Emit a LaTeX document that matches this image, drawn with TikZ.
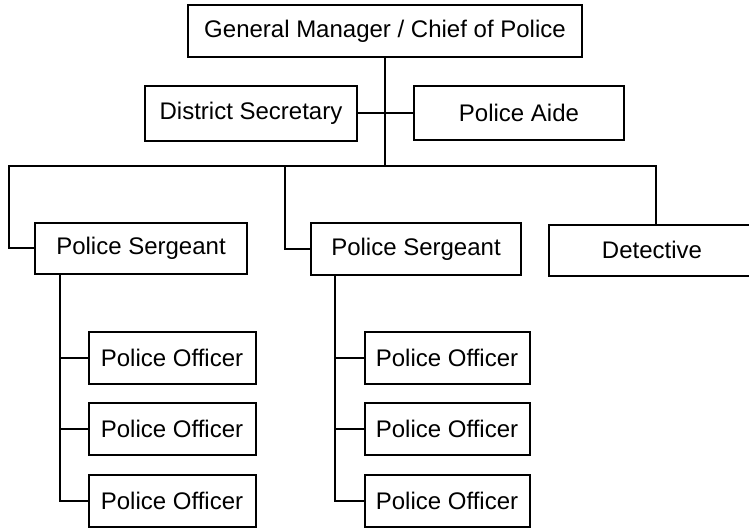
\documentclass[tikz,border=0pt]{standalone}
\usepackage{fontspec}
\setmainfont{Liberation Sans}
\usepackage{tikz}

\begin{document}
\begin{tikzpicture}[x=1pt, y=-1pt,
    every node/.style={font=\fontsize{24}{28}\selectfont},
    box/.style={draw, line width=2pt, inner sep=0pt, minimum height=52pt},
    officer/.style={box, minimum width=167pt},
    link/.style={line width=2pt}]

    \useasboundingbox (0,0) rectangle (749,530);

    % Nodes
    \node[box, minimum width=394pt] (gm) at (385,31) {General Manager / Chief of Police};
    \node[box, minimum width=212pt, minimum height=55pt] (secretary) at (251,113) {District Secretary};
    \node[box, minimum width=210pt, minimum height=54pt] (aide) at (519,113) {Police Aide};

    \node[box, minimum width=212pt, minimum height=51pt] (sgtA) at (141,248) {Police Sergeant};
    \node[box, minimum width=210pt] (sgtB) at (416,249) {Police Sergeant};
    \node[box, minimum width=206pt, minimum height=51pt] (detective) at (652,250) {Detective};

    \foreach \i/\y in {1/358, 2/429, 3/501} {
        \node[officer] (offA\i) at (172,\y) {Police Officer};
        \node[officer, minimum width=165pt] (offB\i) at (447,\y) {Police Officer};
    }

    % Bus coordinates
    \coordinate (busL) at (9,166);
    \coordinate (busM) at (285,166);
    \coordinate (busR) at (656,166);
    \coordinate (spineA) at (60,0);
    \coordinate (spineB) at (335,0);

    % Connectors
    \draw[link] (gm.south) -- (gm.south |- busL);
    \draw[link] (secretary.east) -- (aide.west);
    \draw[link] (sgtA.west) -| (busL) -- (busR) -- (busR |- detective.north);
    \draw[link] (busM) |- (sgtB.west);

    \foreach \i in {1,2,3} {
        \draw[link] (spineA |- sgtA.south) |- (offA\i.west);
        \draw[link] (spineB |- sgtB.south) |- (offB\i.west);
    }

\end{tikzpicture}
\end{document}
